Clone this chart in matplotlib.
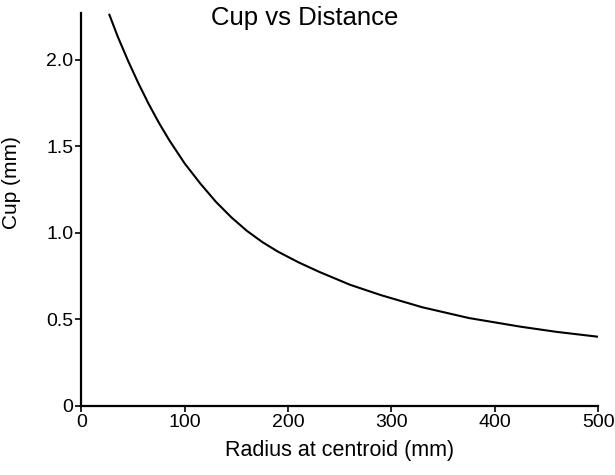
import matplotlib
matplotlib.use('Agg')
import matplotlib.pyplot as plt

# valori (raggio al baricentro, cup)
radius_mm = [27, 35, 45, 55, 65, 75, 85, 100, 115, 130, 145, 160, 175, 190,
             210, 230, 260, 290, 330, 375, 425, 460, 500]
cup_mm = [2.260, 2.135, 1.995, 1.865, 1.745, 1.635, 1.535, 1.400, 1.285, 1.180,
          1.090, 1.012, 0.947, 0.892, 0.830, 0.775, 0.700, 0.640, 0.570, 0.508,
          0.458, 0.428, 0.400]

x_ticks = [0, 100, 200, 300, 400, 500]
y_ticks = [0, 0.5, 1.0, 1.5, 2.0]
y_tick_labels = ["0", "0.5", "1.0", "1.5", "2.0"]

plt.rcParams['font.family'] = ['Liberation Sans', 'DejaVu Sans']

fig = plt.figure(figsize=(6.15, 4.75), dpi=100)
ax = fig.add_axes([0.1325, 0.1453, 0.84, 0.8273])

ax.plot(radius_mm, cup_mm, color='black', linewidth=1.5)

ax.set_xlim(0, 500)
ax.set_ylim(0, 2.27)
ax.set_xticks(x_ticks)
ax.set_yticks(y_ticks)
ax.set_yticklabels(y_tick_labels)
ax.tick_params(direction='out', length=4, width=1.2, labelsize=14, colors='black', pad=2)

for side in ('top', 'right'):
    ax.spines[side].set_visible(False)
for side in ('left', 'bottom'):
    ax.spines[side].set_linewidth(1.6)

ax.set_xlabel("Radius at centroid (mm)", fontsize=15.5, labelpad=6)
ax.set_ylabel("Cup (mm)", fontsize=15)
ax.yaxis.set_label_coords(-0.118, 0.568)
fig.text(0.496, 1 - 25.5 / 475, "Cup vs Distance", ha='center', va='baseline', fontsize=18.5)

fig.savefig("out.png", dpi=100)
